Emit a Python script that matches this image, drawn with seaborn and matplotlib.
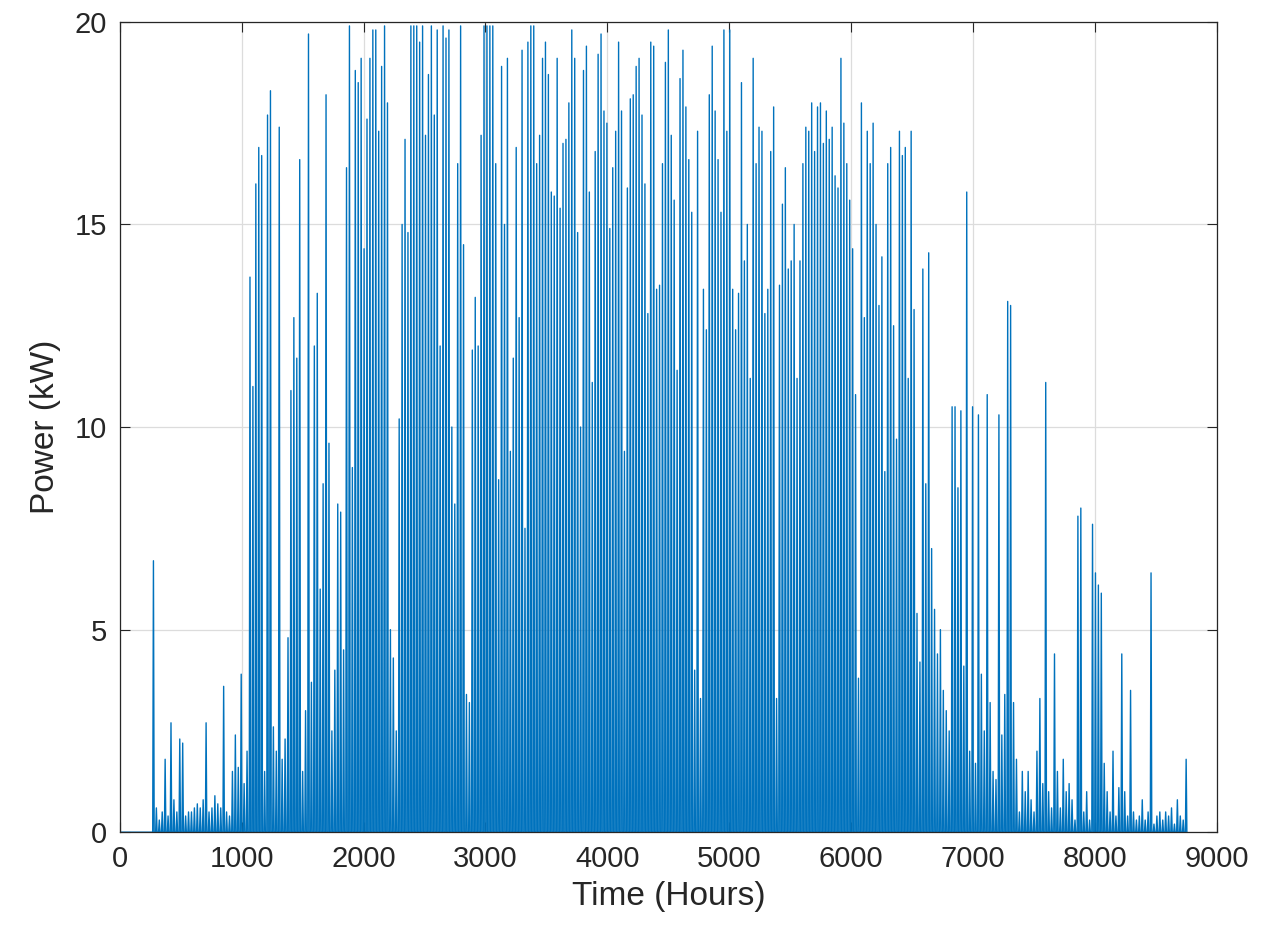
import numpy as np
import pandas as pd
import matplotlib
matplotlib.use("Agg")
import matplotlib.pyplot as plt
import seaborn as sns

daily_peak_kw = [
0,0,0,0,0,0,0,0,0,0,
0,6.7,0.6,0.3,0.5,1.8,0.4,2.7,0.8,0.5,
2.3,2.2,0.4,0.5,0.5,0.6,0.7,0.6,0.8,2.7,
0.5,0.6,0.9,0.7,0.6,3.6,0.5,0.4,1.5,2.4,
1.6,3.9,1.2,2.0,13.7,11.0,16.0,16.9,16.7,1.5,
17.7,18.3,2.6,2.0,17.4,1.8,2.3,4.8,10.9,12.7,
11.7,16.6,1.5,3.0,19.7,3.7,12.0,13.3,6.0,8.6,
18.2,9.6,2.5,4.0,8.1,7.9,4.5,16.4,19.9,9.0,
18.8,18.5,19.1,14.4,17.6,19.1,19.8,19.8,17.3,18.9,
19.9,18.0,5.0,4.3,2.5,10.2,15.0,17.1,14.8,19.9,
19.9,19.9,19.5,19.9,17.2,18.7,19.9,17.7,19.8,12.0,
19.9,19.6,19.8,10.0,8.1,16.5,19.9,14.5,3.4,3.2,
11.9,13.2,12.0,17.2,19.9,19.9,19.9,19.9,16.5,8.7,
18.9,15.0,19.1,9.4,11.7,16.9,12.7,19.3,7.5,19.5,
19.9,19.9,16.5,17.2,19.1,19.5,18.7,15.8,15.7,19.1,
15.4,17.0,17.1,18.0,19.8,19.1,14.8,10.0,18.8,19.4,
15.8,11.1,16.8,19.2,19.7,17.8,17.5,14.9,16.4,17.3,
19.5,17.8,9.4,15.9,18.1,18.2,18.9,19.1,17.7,16.0,
12.8,19.5,19.4,13.4,13.5,16.5,19.0,19.8,17.2,15.6,
11.4,18.6,19.3,17.9,16.6,15.3,4.0,17.3,3.3,13.4,
12.4,18.2,19.4,17.8,16.6,15.3,19.8,17.3,19.8,13.4,
12.4,13.3,18.5,14.1,15.0,11.2,19.1,16.5,17.4,17.3,
12.8,13.4,16.8,17.9,3.3,13.5,15.5,16.4,13.9,14.1,
15.0,11.2,14.1,16.5,17.4,17.3,18.0,16.8,17.9,18.0,
17.0,17.8,17.1,17.4,16.2,15.9,19.1,17.5,16.5,15.6,
14.4,10.8,3.8,18.0,12.7,17.3,16.5,17.5,15.0,13.0,
14.2,8.9,16.5,16.9,12.5,9.7,17.3,16.7,16.9,11.2,
17.3,12.9,5.4,4.2,13.9,8.6,14.3,7.0,5.5,4.4,
5.0,3.5,3.0,2.5,10.5,10.5,8.5,10.4,4.1,15.8,
2.0,10.5,1.7,10.3,3.9,2.5,10.8,3.2,1.5,1.3,
10.3,2.4,3.4,13.1,13.0,3.2,1.8,0.5,1.5,1.0,
1.5,0.8,0.5,2.0,3.3,1.2,11.1,1.0,0.6,4.4,
1.5,0.6,1.8,1.0,1.2,0.8,0.3,7.8,8.0,0.5,
1.0,0.3,7.6,6.4,6.1,5.9,1.7,1.0,0.5,2.0,
0.4,1.1,4.4,1.0,0.4,3.5,0.5,0.3,0.4,0.8,
0.3,0.5,6.4,0.2,0.4,0.5,0.3,0.5,0.4,0.6,
0.2,0.8,0.4,0.3,1.8,
]
x_ticks = [0,1000,2000,3000,4000,5000,6000,7000,8000,9000]
y_ticks = [0,5,10,15,20]

hours, vals = [0], [0.0]
for d, p in enumerate(daily_peak_kw):
    hours += [24*d+6, 24*d+12, 24*d+18]
    vals += [0.0, p, 0.0]
df = pd.DataFrame({"Time": hours, "Power": vals})

sns.set_style("white")
plt.rcParams['font.family'] = ['Arial', 'Liberation Sans', 'DejaVu Sans']
fig = plt.figure(figsize=(12.61, 9.5), dpi=100)
ax = fig.add_axes([0.095, 0.124, 0.87, 0.853])
sns.lineplot(data=df, x="Time", y="Power", ax=ax, sort=False, estimator=None,
             color="#0072BD", linewidth=1.0)
ax.set_xlim(0, 9000)
ax.set_ylim(0, 20)
ax.set_xticks(x_ticks)
ax.set_yticks(y_ticks)
ax.grid(True, color="#dcdcdc", linewidth=0.9)
ax.set_axisbelow(True)
ax.tick_params(direction="in", labelsize=21, colors="#262626", length=7, pad=9,
               top=True, right=True, bottom=True, left=True)
for s in ax.spines.values():
    s.set_color("#262626"); s.set_linewidth(0.9); s.set_visible(True)
ax.set_xlabel("Time (Hours)", fontsize=24, color="#262626", labelpad=6)
ax.set_ylabel("Power (kW)", fontsize=24, color="#262626", labelpad=10)
fig.savefig("out.png", dpi=100)
